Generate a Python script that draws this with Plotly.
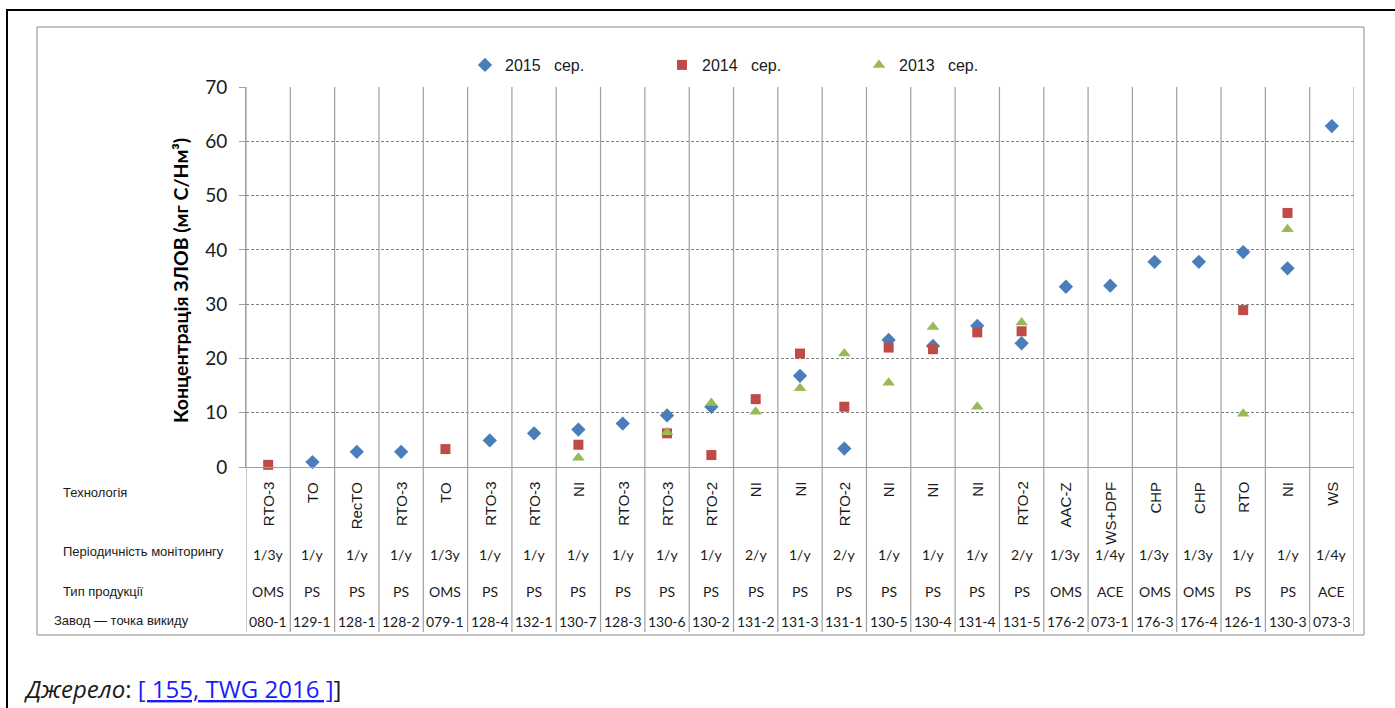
import plotly.graph_objects as go

# ---------------- data ----------------
sites = ["080-1", "129-1", "128-1", "128-2", "079-1", "128-4", "132-1", "130-7", "128-3", "130-6",
         "130-2", "131-2", "131-3", "131-1", "130-5", "130-4", "131-4", "131-5", "176-2", "073-1",
         "176-3", "176-4", "126-1", "130-3", "073-3"]
technology = ["RTO-3", "TO", "RecTO", "RTO-3", "TO", "RTO-3", "RTO-3", "NI", "RTO-3", "RTO-3",
              "RTO-2", "NI", "NI", "RTO-2", "NI", "NI", "NI", "RTO-2", "AAC-Z", "WS+DPF",
              "CHP", "CHP", "RTO", "NI", "WS"]
frequency = ["1/3y", "1/y", "1/y", "1/y", "1/3y", "1/y", "1/y", "1/y", "1/y", "1/y",
             "1/y", "2/y", "1/y", "2/y", "1/y", "1/y", "1/y", "2/y", "1/3y", "1/4y",
             "1/3y", "1/3y", "1/y", "1/y", "1/4y"]
product = ["OMS", "PS", "PS", "PS", "OMS", "PS", "PS", "PS", "PS", "PS",
           "PS", "PS", "PS", "PS", "PS", "PS", "PS", "PS", "OMS", "ACE",
           "OMS", "OMS", "PS", "PS", "ACE"]

v2015 = [None, 0.9, 2.8, 2.8, None, 4.9, 6.2, 6.9, 8.0, 9.5,
         11.1, None, 16.8, 3.4, 23.4, 22.3, 26.0, 22.8, 33.2, 33.4,
         37.8, 37.8, 39.6, 36.6, 62.8]
v2014 = [0.4, None, None, None, 3.3, None, None, 4.1, None, 6.2,
         2.2, 12.5, 20.9, 11.1, 22.0, 21.7, 24.8, 25.0, None, None,
         None, None, 28.9, 46.8, None]
v2013 = [None, None, None, None, None, None, None, 1.7, None, 6.4,
         11.8, 10.2, 14.5, 20.9, 15.5, 25.8, 11.1, 26.6, None, None,
         None, None, 9.8, 43.8, None]

series_names = ["2015\u00a0\u00a0 сер.", "2014\u00a0\u00a0 сер.", "2013\u00a0\u00a0 сер."]
series_values = [v2015, v2014, v2013]
series_symbols = ["diamond", "square", "triangle-up"]
series_sizes = [11, 10, 11]
series_colors = ["#4A7EBB", "#BE4B48", "#98B954"]

row_labels = ["Технологія", "Періодичність моніторингу", "Тип продукції", "Завод — точка викиду"]
y_title = "Концентрація ЗЛОВ (мг С/Нм³)"
source_text = ("<i>Джерело</i>: <span style='color:#1a1aff;text-decoration:underline'>"
               "[ 155, TWG 2016 ]</span>]")

# ---------------- geometry (pixels) ----------------
W, H = 1395, 708
PL, PR, PT, PB = 246, 1354, 87, 467


def px_x(x):
    return (x - PL) / (PR - PL)


def px_y(y):
    return (PB - y) / (PB - PT)


fig = go.Figure()
for name, vals, sym, sz, col in zip(series_names, series_values, series_symbols, series_sizes, series_colors):
    fig.add_trace(go.Scatter(
        x=sites, y=vals, mode="markers", name=name,
        marker=dict(symbol=sym, size=sz, color=col, line=dict(width=0)),
        cliponaxis=False,
    ))

shapes = []
# vertical column lines spanning plot and table
for i in range(len(sites) + 1):
    shapes.append(dict(type="line", xref="x", yref="paper", x0=i - 0.5, x1=i - 0.5,
                       y0=px_y(632), y1=1, line=dict(color="#A0A0A0", width=1.2)))
# chart frame
shapes.append(dict(type="rect", xref="paper", yref="paper", x0=px_x(37), x1=px_x(1364),
                   y0=px_y(635), y1=px_y(27), line=dict(color="#8C8C8C", width=1)))
# outer black border (top and left)
shapes.append(dict(type="line", xref="paper", yref="paper", x0=px_x(6), x1=px_x(1396),
                   y0=px_y(10), y1=px_y(10), line=dict(color="black", width=2)))
shapes.append(dict(type="line", xref="paper", yref="paper", x0=px_x(7), x1=px_x(7),
                   y0=px_y(710), y1=px_y(10), line=dict(color="black", width=2)))

annotations = []
lab_font = dict(family="Liberation Sans, Arial", size=13, color="#1a1a1a")
val_font = dict(family="Lato", size=14, color="#1a1a1a")
for lbl, ypx, xpx in zip(row_labels, [492, 551, 591, 620], [61, 61, 61, 52]):
    annotations.append(dict(text=lbl, xref="paper", yref="paper", x=px_x(xpx), y=px_y(ypx),
                            xanchor="left", yanchor="middle", showarrow=False, font=lab_font))
for i, s in enumerate(sites):
    annotations.append(dict(text=technology[i], xref="x", yref="paper", x=s, y=px_y(480),
                            xanchor="center", yanchor="top", textangle=-90, showarrow=False,
                            font=dict(family="Liberation Sans, Arial", size=15, color="#1a1a1a")))
    annotations.append(dict(text=frequency[i], xref="x", yref="paper", x=s, y=px_y(554),
                            xanchor="center", yanchor="middle", showarrow=False, font=val_font))
    annotations.append(dict(text=product[i], xref="x", yref="paper", x=s, y=px_y(591),
                            xanchor="center", yanchor="middle", showarrow=False, font=val_font))
    annotations.append(dict(text=s, xref="x", yref="paper", x=s, y=px_y(621),
                            xanchor="center", yanchor="middle", showarrow=False, font=val_font))

annotations.append(dict(text=y_title, xref="paper", yref="paper", x=px_x(180), y=px_y(281),
                        xanchor="center", yanchor="middle", textangle=-90, showarrow=False,
                        font=dict(family="Lato", size=19.5, color="#000000", weight="bold")))
annotations.append(dict(text=source_text, xref="paper", yref="paper", x=px_x(22), y=px_y(688),
                        xanchor="left", yanchor="middle", showarrow=False,
                        font=dict(family="Open Sans", size=24, color="#1a1a1a")))

fig.update_layout(
    width=W, height=H,
    margin=dict(l=PL, r=W - PR, t=PT, b=H - PB, autoexpand=False),
    paper_bgcolor="white", plot_bgcolor="white",
    showlegend=True,
    legend=dict(orientation="h", x=px_x(465), y=px_y(65), xanchor="left", yanchor="middle",
                entrywidth=152, entrywidthmode="pixels", bgcolor="rgba(0,0,0,0)",
                font=dict(family="Liberation Sans, Arial", size=16, color="#1a1a1a"),
                itemclick=False),
    xaxis=dict(type="category", range=[-0.5, len(sites) - 0.5], showgrid=False,
               showticklabels=False, ticks="", showline=True, linecolor="#A0A0A0", linewidth=1,
               zeroline=False, fixedrange=True),
    yaxis=dict(range=[0, 70], tickvals=[0, 10, 20, 30, 40, 50, 60, 70], showgrid=True,
               gridcolor="#808080", gridwidth=1, griddash="3px,2px", zeroline=False,
               showline=True, linecolor="#A0A0A0", linewidth=1, ticks="outside", ticklen=6,
               tickcolor="#A0A0A0", ticklabelstandoff=8,
               tickfont=dict(family="Lato", size=19, color="#1a1a1a"), automargin=False,
               fixedrange=True),
    shapes=shapes,
    annotations=annotations,
)

fig.write_html("out.html", config={"displayModeBar": False},
               post_script="document.body.style.margin='0';document.body.style.padding='0';")
